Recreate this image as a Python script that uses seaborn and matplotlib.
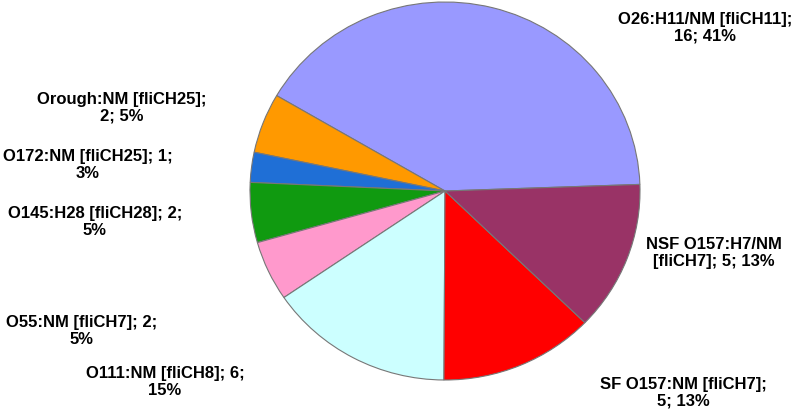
import matplotlib
matplotlib.use("Agg")
import matplotlib.pyplot as plt
import seaborn as sns

sns.set_theme(style="white")
plt.rcParams['font.family'] = ['Liberation Sans', 'DejaVu Sans']

categories = ["O26:H11/NM [fliCH11]", "Orough:NM [fliCH25]", "O172:NM [fliCH25]",
              "O145:H28 [fliCH28]", "O55:NM [fliCH7]", "O111:NM [fliCH8]",
              "SF O157:NM [fliCH7]", "NSF O157:H7/NM [fliCH7]"]
values = [16, 2, 1, 2, 2, 6, 5, 5]
percents = [41, 5, 3, 5, 5, 15, 13, 13]
colors = ["#9999ff", "#ff9900", "#1f6fd6", "#109a10", "#ff99cc", "#ccffff", "#ff0000", "#993366"]

labels = [
    f"{categories[0]};\n{values[0]}; {percents[0]}%",
    f"{categories[1]};\n{values[1]}; {percents[1]}%",
    f"{categories[2]}; {values[2]};\n{percents[2]}%",
    f"{categories[3]}; {values[3]};\n{percents[3]}%",
    f"{categories[4]}; {values[4]};\n{percents[4]}%",
    f"{categories[5]}; {values[5]};\n{percents[5]}%",
    f"{categories[6]};\n{values[6]}; {percents[6]}%",
    "NSF O157:H7/NM\n[fliCH7]; 5; 13%",
]
pos = [(705, 28), (122, 108), (88, 165), (95, 222), (82, 331), (165, 382),
       (683, 393), (714, 253)]

fig = plt.figure(figsize=(7.99, 4.16), dpi=100)
ax = fig.add_axes([250/799, 36/416, 390/799, 378/416])
ax.pie(values, colors=colors, startangle=2, counterclock=True,
       wedgeprops=dict(edgecolor="#777777", linewidth=0.8))
ax.set_aspect('auto')
ax.set_xlim(-1, 1)
ax.set_ylim(-1, 1)
for lab, (x, y) in zip(labels, pos):
    fig.text(x/799, 1 - y/416, lab, ha="center", va="center", fontsize=12,
             fontweight="bold", color="black", linespacing=1.1)
fig.savefig("out.png", dpi=100)
